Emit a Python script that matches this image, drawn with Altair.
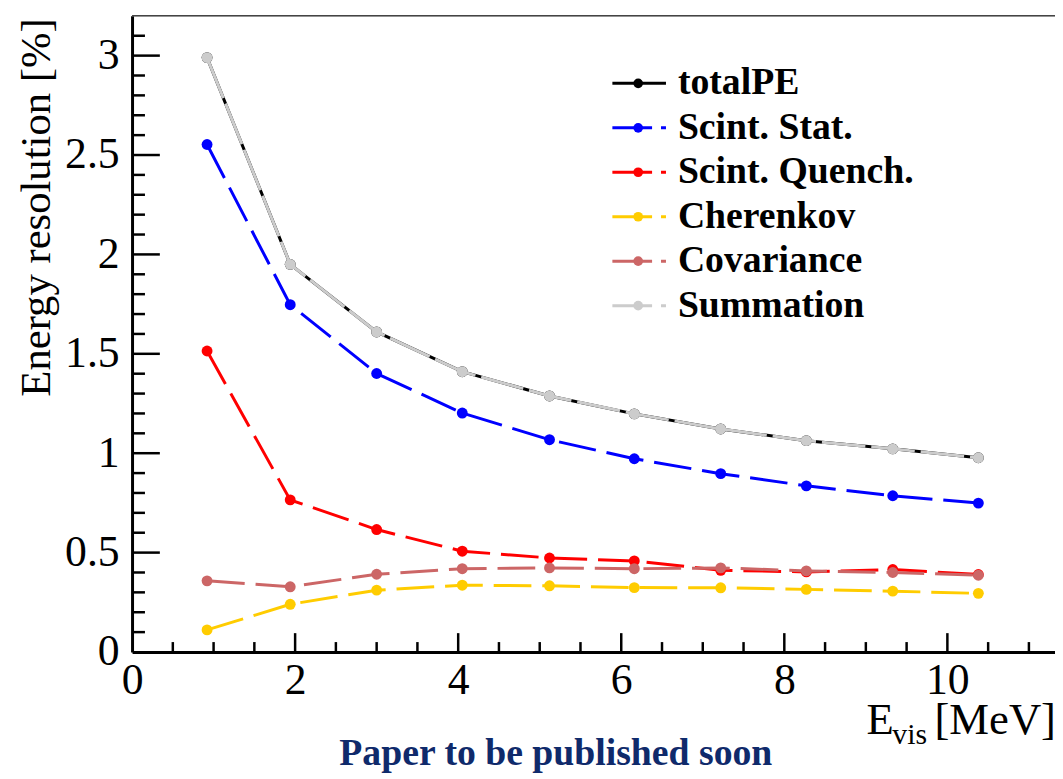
import altair as alt
import pandas as pd

# ---------------- data ----------------
e_vis = [0.92, 1.94, 3.00, 4.05, 5.12, 6.16, 7.22, 8.27, 9.33, 10.38]
total_pe = [2.99, 1.95, 1.61, 1.41, 1.288, 1.198, 1.122, 1.063, 1.022, 0.977]
scint_stat = [2.553, 1.747, 1.401, 1.202, 1.068, 0.972, 0.897, 0.836, 0.786, 0.749]
scint_quench = [1.514, 0.765, 0.616, 0.507, 0.473, 0.458, 0.411, 0.403, 0.415, 0.390]
cherenkov = [0.111, 0.240, 0.311, 0.336, 0.333, 0.324, 0.323, 0.315, 0.306, 0.295]
covariance = [0.358, 0.328, 0.391, 0.419, 0.423, 0.419, 0.423, 0.408, 0.400, 0.386]
summation = [2.99, 1.95, 1.61, 1.41, 1.288, 1.198, 1.122, 1.063, 1.022, 0.977]

series_names = ["totalPE", "Scint. Stat.", "Scint. Quench.", "Cherenkov", "Covariance", "Summation"]
series_colors = ["#000000", "#0000ff", "#ff0000", "#ffcc00", "#cc6666", "#cccccc"]
series_values = [total_pe, scint_stat, scint_quench, cherenkov, covariance, summation]

x_labels = [0, 2, 4, 6, 8, 10]
y_labels = [0, 0.5, 1, 1.5, 2, 2.5, 3]
x_major_ticks = [2, 4, 6, 8, 10]
x_minor_ticks = [0.5, 1, 1.5, 2.5, 3, 3.5, 4.5, 5, 5.5, 6.5, 7, 7.5, 8.5, 9, 9.5, 10.5, 11]
y_major_ticks = [0.5, 1, 1.5, 2, 2.5, 3]
y_minor_ticks = [0.1, 0.2, 0.3, 0.4, 0.6, 0.7, 0.8, 0.9, 1.1, 1.2, 1.3, 1.4,
                 1.6, 1.7, 1.8, 1.9, 2.1, 2.2, 2.3, 2.4, 2.6, 2.7, 2.8, 2.9, 3.1]

x_title_parts = ["E", "vis", "[MeV]"]
footer_text = ["Paper to be published soon"]

# ---------------- layout ----------------
W, H = 930, 641
XMAX, YMAX = 11.32, 3.2
FONT = "Liberation Serif"

rows = []
for name, vals in zip(series_names, series_values):
    for x, y in zip(e_vis, vals):
        rows.append({"series": name, "E": x, "R": y})
df = pd.DataFrame(rows)

xs = alt.Scale(domain=[0, XMAX], nice=False, zero=False)
ys = alt.Scale(domain=[0, YMAX], nice=False, zero=False)

x_axis = alt.Axis(values=x_labels, format="d", labelFont=FONT, labelFontSize=44,
                  labelColor="black", labelPadding=7, ticks=False, tickSize=0,
                  grid=False, domainColor="black", domainWidth=3, title=None,
                  labelFlush=False, labelOverlap=False)
y_axis = alt.Axis(values=y_labels, format="~g", labelFont=FONT, labelFontSize=44,
                  labelColor="black", labelPadding=13, ticks=False, tickSize=0,
                  grid=False, domainColor="black", domainWidth=3,
                  title="Energy resolution [%]", titleFont=FONT, titleFontSize=43,
                  titleFontWeight="normal", titleColor="black", titleX=-96, titleY=2,
                  titleAlign="right", titleAngle=-90, titleBaseline="middle",
                  labelFlush=False, labelOverlap=False)

X = alt.X("E:Q", scale=xs, axis=x_axis)
Y = alt.Y("R:Q", scale=ys, axis=y_axis)

dashes = {"totalPE": None, "Summation": [44, 6]}

layers = []
for name, color in zip(series_names, series_colors):
    sub = alt.Chart(df).transform_filter(alt.datum.series == name)
    d = dashes.get(name, [38, 11])
    if d is None:
        line = sub.mark_line(color=color, strokeWidth=3)
    else:
        line = sub.mark_line(color=color, strokeWidth=3, strokeDash=d)
    pts = sub.mark_circle(color=color, size=120, opacity=1)
    layers.append(line.encode(x=X, y=Y))
    layers.append(pts.encode(x=X, y=Y))

# inward ticks (ROOT style)
xt_major = alt.Chart(pd.DataFrame({"E": x_major_ticks})).mark_rule(color="black", strokeWidth=2.5).encode(
    x=X, y=alt.value(H), y2=alt.value(H - 19))
xt_minor = alt.Chart(pd.DataFrame({"E": x_minor_ticks})).mark_rule(color="black", strokeWidth=2.5).encode(
    x=X, y=alt.value(H), y2=alt.value(H - 10))
yt_major = alt.Chart(pd.DataFrame({"R": y_major_ticks})).mark_rule(color="black", strokeWidth=2.5).encode(
    y=Y, x=alt.value(0), x2=alt.value(28))
yt_minor = alt.Chart(pd.DataFrame({"R": y_minor_ticks})).mark_rule(color="black", strokeWidth=2.5).encode(
    y=Y, x=alt.value(0), x2=alt.value(13))

top_frame = alt.Chart(pd.DataFrame({"E": [0]})).mark_rule(color="#444444", strokeWidth=1.5).encode(
    x=alt.value(0), x2=alt.value(W), y=alt.value(0))

# legend
legend_df = pd.DataFrame({"series": series_names, "idx": list(range(len(series_names)))})
lbase = alt.Chart(legend_df).transform_calculate(ly="68 + 44.8 * datum.idx")
LY = alt.Y("ly:Q", scale=None, axis=None)
LC = alt.Color("series:N", scale=alt.Scale(domain=series_names, range=series_colors), legend=None)
LD = alt.StrokeDash("series:N", scale=alt.Scale(
    domain=series_names,
    range=[[1, 0], [40, 9, 5, 60], [40, 9, 5, 60], [40, 9, 5, 60], [40, 9, 5, 60], [40, 9, 5, 60]]),
    legend=None)
leg_line = lbase.mark_rule(strokeWidth=3).encode(x=alt.value(484), x2=alt.value(538), y=LY, color=LC, strokeDash=LD)
leg_pt = lbase.mark_circle(size=95, opacity=1).encode(x=alt.value(510), y=LY, color=LC)
leg_txt = lbase.mark_text(align="left", baseline="middle", font=FONT, fontWeight="bold",
                          fontSize=38, color="black").encode(x=alt.value(550), y=LY, text="series:N")

# x-axis title with subscript
t_e = alt.Chart(pd.DataFrame({"t": [x_title_parts[0]]})).mark_text(
    align="left", baseline="alphabetic", font=FONT, fontSize=45, color="black").encode(
    x=alt.value(740), y=alt.value(724), text="t:N")
t_vis = alt.Chart(pd.DataFrame({"t": [x_title_parts[1]]})).mark_text(
    align="left", baseline="alphabetic", font=FONT, fontSize=30, color="black").encode(
    x=alt.value(766), y=alt.value(734), text="t:N")
t_mev = alt.Chart(pd.DataFrame({"t": [x_title_parts[2]]})).mark_text(
    align="right", baseline="alphabetic", font=FONT, fontSize=45, color="black").encode(
    x=alt.value(931), y=alt.value(724), text="t:N")
footer = alt.Chart(pd.DataFrame({"t": footer_text})).mark_text(
    align="center", baseline="alphabetic", font=FONT, fontWeight="bold", fontSize=38,
    color="#0f2a6b").encode(x=alt.value(427), y=alt.value(755), text="t:N")

chart = alt.layer(
    *layers, xt_major, xt_minor, yt_major, yt_minor, top_frame,
    leg_line, leg_pt, leg_txt, t_e, t_vis, t_mev, footer
).properties(
    width=W, height=H,
    autosize=alt.AutoSizeParams(type="none"),
    padding={"left": 125, "top": 5, "right": 0, "bottom": 119},
).configure_view(stroke=None).configure(background="white")

chart.save("out.html", embed_options={"renderer": "svg", "actions": False})
